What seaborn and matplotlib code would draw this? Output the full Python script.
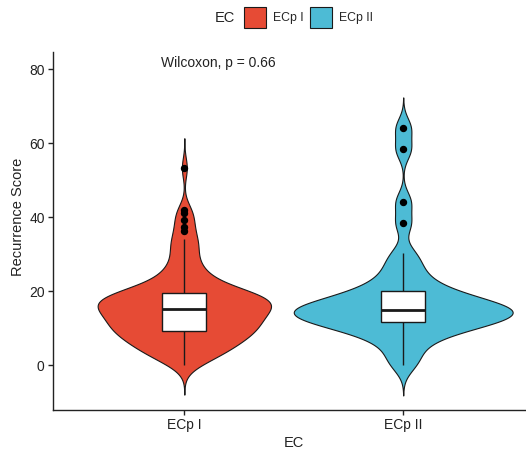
import numpy as np
import pandas as pd
import matplotlib
matplotlib.use("Agg")
import matplotlib.pyplot as plt
import seaborn as sns

# ---------------- data ----------------
categories = ["ECp I", "ECp II"]
palette_colors = ["#E64B35", "#4DBBD5"]

ecp1_scores = [
    0, 0.9, 1.4, 1.9, 2.4, 2.8, 3.2, 3.6, 4.0, 4.3, 4.7, 5.0, 5.3, 5.6,
    5.9, 6.2, 6.5, 6.7, 7.0, 7.3, 7.5, 7.8, 8.0, 8.3, 8.5, 8.7, 9.0, 9.2,
    9.4, 9.6, 9.8, 10.0, 10.2, 10.4, 10.6, 10.9, 11.1, 11.3, 11.5, 11.7,
    11.9, 12.1, 12.3, 12.5, 12.7, 12.9, 13.2, 13.4, 13.6, 13.8, 14.0,
    14.2, 14.5, 14.7, 15.0,
    15.15, 15.3, 15.45, 15.6, 15.75, 15.9, 16.05, 16.2, 16.35, 16.5, 16.65,
    16.8, 16.95, 17.1, 17.3, 17.5, 17.7, 17.9, 18.1, 18.3, 18.5, 18.7,
    18.9, 19.05, 19.2, 19.3, 19.35,
    19.45, 19.6, 19.9, 20.3, 20.7, 21.1, 21.5, 22.0, 22.5, 23.0, 23.6,
    24.2, 24.9, 25.7, 26.6, 27.6, 28.8, 30.0, 31.3, 32.6, 33.4, 34.0,
    36.2, 37.3, 39.2, 41.1, 41.9, 53.3,
]

ecp2_scores = [
    0, 2.5, 5.5, 7.0, 8.5, 9.5, 10.3, 10.8, 11.2, 11.6,
    12.0, 12.5, 13.0, 13.5, 14.0, 14.3, 14.6, 14.8, 15.0,
    15.3, 15.7, 16.2, 16.8, 17.3, 18.0, 18.7, 19.4, 20.0,
    21.5, 23.0, 25.0, 27.5, 30.2,
    38.3, 44.1, 58.3, 64.1,
]

stat_label = "Wilcoxon, p = 0.66"

df = pd.DataFrame({
    "EC": [categories[0]] * len(ecp1_scores) + [categories[1]] * len(ecp2_scores),
    "score": ecp1_scores + ecp2_scores,
})


def nrd0_factor(kde):
    """R's bw.nrd0 expressed as a factor of the sample sd."""
    x = np.asarray(kde.dataset).ravel()
    sd = x.std(ddof=1)
    q75, q25 = np.percentile(x, [75, 25])
    h = 0.9 * min(sd, (q75 - q25) / 1.34) * len(x) ** -0.2
    return h / sd


# ---------------- style ----------------
sns.set_style("ticks")
plt.rcParams["font.family"] = ["Liberation Sans", "DejaVu Sans"]
plt.rcParams["axes.edgecolor"] = "#222222"
plt.rcParams["xtick.color"] = "#222222"
plt.rcParams["ytick.color"] = "#222222"

fig = plt.figure(figsize=(5.26, 4.5), dpi=100)
ax = fig.add_axes([53 / 526, 40 / 450, 473 / 526, 358 / 450])

sns.violinplot(
    data=df, x="EC", y="score", hue="EC", order=categories, hue_order=categories,
    palette=palette_colors, saturation=1, bw_method=nrd0_factor, cut=3,
    gridsize=512, density_norm="area", common_norm=True, width=1.0,
    inner=None, linewidth=0.8, linecolor="#1a1a1a", legend=True, ax=ax,
)

sns.boxplot(
    data=df, x="EC", y="score", order=categories, color="white", saturation=1,
    width=0.2, linewidth=1.0, linecolor="#1a1a1a", showcaps=False,
    medianprops=dict(linewidth=2.0, color="#1a1a1a"),
    flierprops=dict(marker="o", markersize=4.3, markerfacecolor="black",
                    markeredgecolor="black"),
    ax=ax,
)

ax.set_xlim(-0.6, 1.561)
ax.set_ylim(-12.16, 84.6)
ax.set_yticks([0, 20, 40, 60, 80])
sns.despine(ax=ax)
for s in ["left", "bottom"]:
    ax.spines[s].set_linewidth(1.0)
ax.tick_params(axis="both", labelsize=10, length=3.5, width=1.0, pad=2.5,
               labelcolor="#222222")

ax.set_xlabel("EC", fontsize=10.5, color="#222222")
ax.set_ylabel("Recurrence Score", fontsize=10.5, color="#222222")
ax.xaxis.set_label_coords((293.5 - 53) / 473, -26 / 358)
ax.yaxis.label.set_va("center")
ax.yaxis.set_label_coords(-35 / 473, (410 - 217) / 358)

ax.text(-0.106, 81.6, stat_label, ha="left", va="center", fontsize=10,
        color="#222222")

# legend on top
sns.move_legend(
    ax, loc="center", bbox_to_anchor=(308.5 / 526, 1 - 17.5 / 450),
    bbox_transform=fig.transFigure, ncol=2, title=None, frameon=False,
    fontsize=8.8, handlelength=1.8, handleheight=2.15, handletextpad=0.57,
    columnspacing=0.5, borderpad=0.0,
)
fig.text(215 / 526, 1 - 17.5 / 450, "EC", ha="left", va="center",
         fontsize=10.5, color="#222222")

fig.savefig("out.png", dpi=100)
